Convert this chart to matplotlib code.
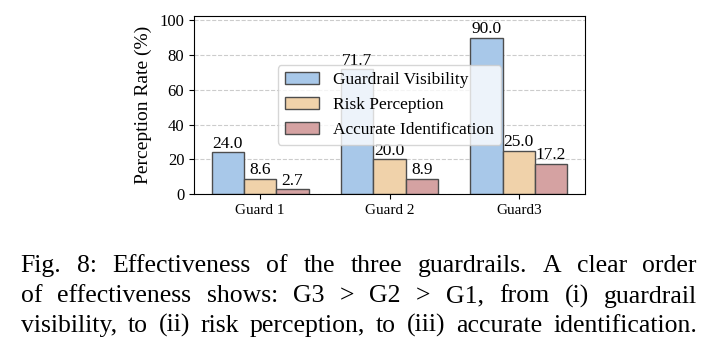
import matplotlib
matplotlib.use("Agg")
import matplotlib.pyplot as plt
import numpy as np

plt.rcParams['font.family'] = ['Liberation Serif', 'DejaVu Serif']

groups = ['Guard 1', 'Guard 2', 'Guard3']
series_names = ['Guardrail Visibility', 'Risk Perception', 'Accurate Identification']
visibility = [24.0, 71.7, 90.0]
risk = [8.6, 20.0, 25.0]
accurate = [2.7, 8.9, 17.2]
yticks = [0, 20, 40, 60, 80, 100]
caption_lines = [
    "Fig. 8: Effectiveness of the three guardrails. A clear order",
    "of effectiveness shows: G3 > G2 > G1, from (i) guardrail",
    "visibility, to (ii) risk perception, to (iii) accurate identification.",
]

colors = ['#a8c8e9', '#f0d2aa', '#d5a2a2']
W, H = 712, 351
fig = plt.figure(figsize=(W / 100, H / 100), dpi=100)
ax = fig.add_axes([194 / W, 1 - 194 / H, (585 - 194) / W, (194 - 16) / H])

x = np.arange(len(groups))
width = 0.25
for i, (vals, name) in enumerate(zip([visibility, risk, accurate], series_names)):
    bars = ax.bar(x + (i - 1) * width, vals, width, color=colors[i], edgecolor='#4d4d4d',
                  linewidth=1.0, label=name, zorder=2)
    ax.bar_label(bars, fmt='%.1f', padding=0.5, fontsize=12.5)

ax.set_ylim(0, 102.5)
ax.set_yticks(yticks)
ax.set_xticks(x)
ax.set_xticklabels(groups, fontsize=11)
ax.tick_params(axis='y', labelsize=12)
ax.set_ylabel('Perception Rate (%)', fontsize=14)
ax.yaxis.set_label_coords(-(194 - 152) / (585 - 194), 0.5)
ax.yaxis.grid(True, linestyle='--', color='#cccccc', linewidth=0.8)
ax.set_axisbelow(True)
ax.legend(loc='center', fontsize=12.5, framealpha=0.8)

# caption, justified
fs = 18.5
left_px, right_px = 20.7, 697
baselines = [272, 302.5, 332]
renderer = fig.canvas.get_renderer()
for li, (line, base) in enumerate(zip(caption_lines, baselines)):
    words = line.split(' ')
    texts = []
    widths = []
    for w in words:
        t = fig.text(0, 1 - base / H, w, fontsize=fs, va='baseline', ha='left')
        bb = t.get_window_extent(renderer=renderer)
        texts.append(t)
        widths.append(bb.width)
    gap = (right_px - left_px - sum(widths)) / (len(words) - 1)
    xpos = left_px
    for t, wd in zip(texts, widths):
        t.set_x(xpos / W)
        xpos += wd + gap

fig.savefig('out.png', dpi=100)
